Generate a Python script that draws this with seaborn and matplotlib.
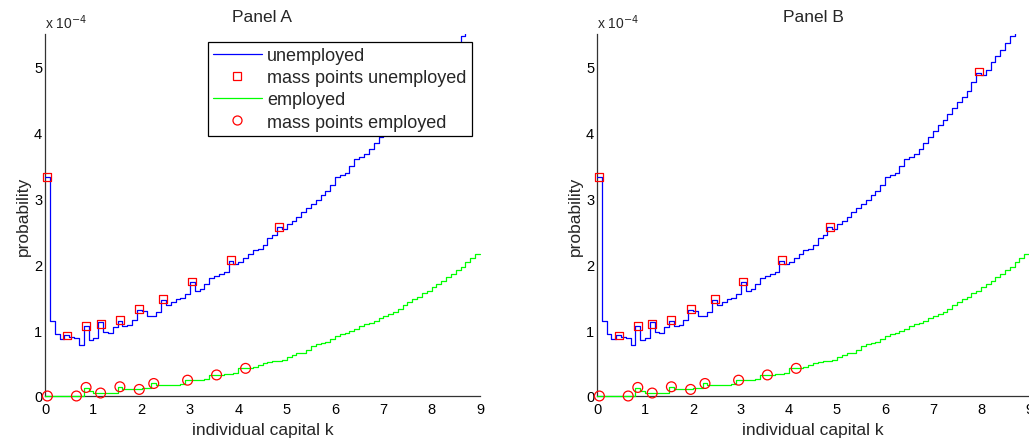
import numpy as np
import pandas as pd
import matplotlib
matplotlib.use('Agg')
import matplotlib.pyplot as plt
from matplotlib.lines import Line2D
from matplotlib.ticker import FuncFormatter
import seaborn as sns

sns.set_style('white')
plt.rcParams['font.family'] = ['Liberation Sans', 'DejaVu Sans']

# capital grid (bin edges), probabilities in units of 1e-4
k_edges = np.round(np.arange(91) * 0.1, 1)

unemployed = [3.33, 1.14, 0.94, 0.87, 0.92, 0.90, 0.88, 0.77, 1.065, 0.85,
              0.88, 1.12, 0.97, 0.96, 1.05, 1.14, 1.07, 1.08, 1.15, 1.31,
              1.29, 1.22, 1.22, 1.28, 1.46, 1.39, 1.43, 1.47, 1.49, 1.545,
              1.73, 1.60, 1.63, 1.70, 1.80, 1.83, 1.86, 1.89, 2.05, 2.00,
              2.03, 2.09, 2.15, 2.22, 2.24, 2.30, 2.40, 2.45, 2.57, 2.54,
              2.61, 2.66, 2.72, 2.79, 2.86, 2.92, 2.98, 3.05, 3.11, 3.20,
              3.33, 3.36, 3.39, 3.50, 3.60, 3.63, 3.68, 3.76, 3.84, 3.93,
              4.02, 4.11, 4.20, 4.28, 4.38, 4.47, 4.54, 4.63, 4.77, 4.91,
              4.87, 4.96, 5.07, 5.16, 5.25, 5.36, 5.47, 5.58, 5.70, 5.82]

employed = [0, 0, 0, 0, 0, 0, 0, 0, 0.115, 0.07,
            0.045, 0.045, 0.05, 0.05, 0.05, 0.14, 0.11, 0.10, 0.10, 0.105,
            0.12, 0.12, 0.195, 0.17, 0.17, 0.17, 0.17, 0.17, 0.18, 0.24,
            0.24, 0.24, 0.24, 0.26, 0.32, 0.32, 0.32, 0.33, 0.33, 0.355,
            0.42, 0.42, 0.42, 0.44, 0.47, 0.50, 0.52, 0.535, 0.535, 0.55,
            0.586, 0.626, 0.647, 0.66, 0.70, 0.76, 0.79, 0.80, 0.82, 0.86,
            0.91, 0.94, 0.955, 0.98, 1.02, 1.07, 1.09, 1.11, 1.14, 1.18,
            1.22, 1.25, 1.28, 1.32, 1.38, 1.43, 1.47, 1.51, 1.56, 1.60,
            1.66, 1.70, 1.75, 1.81, 1.86, 1.91, 1.96, 2.03, 2.09, 2.15]

mass_k_unemp = [0.05, 0.45, 0.85, 1.15, 1.55, 1.95, 2.45, 3.05, 3.85, 4.85, 7.95]
mass_p_unemp = [3.33, 0.92, 1.07, 1.10, 1.15, 1.32, 1.47, 1.74, 2.06, 2.57, 4.93]

mass_k_emp = [0.05, 0.65, 0.85, 1.15, 1.55, 1.95, 2.25, 2.95, 3.55, 4.15]
mass_p_emp = [0.0, 0.0, 0.13, 0.045, 0.14, 0.10, 0.19, 0.24, 0.32, 0.42]

panel_titles = ['Panel A', 'Panel B']
scale = 1e-4


def stairs_frame(vals):
    # stairs: repeat the last value so the final bin is drawn to the edge
    y = np.append(vals, vals[-1]) * scale
    return pd.DataFrame({'k': k_edges, 'p': y})


df_u = stairs_frame(unemployed)
df_e = stairs_frame(employed)
df_mu = pd.DataFrame({'k': mass_k_unemp, 'p': np.array(mass_p_unemp) * scale})
df_me = pd.DataFrame({'k': mass_k_emp, 'p': np.array(mass_p_emp) * scale})

fig = plt.figure(figsize=(10.29, 4.39), dpi=100)
axes = [fig.add_axes([45/1029, 42/439, 435/1029, 362/439]),
        fig.add_axes([597/1029, 42/439, 432/1029, 362/439])]

for ax, title in zip(axes, panel_titles):
    sns.lineplot(data=df_u, x='k', y='p', ax=ax, color='#0000ff', lw=0.9,
                 drawstyle='steps-post', estimator=None, zorder=3)
    sns.lineplot(data=df_e, x='k', y='p', ax=ax, color='#00ff00', lw=0.9,
                 drawstyle='steps-post', estimator=None, zorder=3,
                 clip_on=False)
    sns.scatterplot(data=df_mu, x='k', y='p', ax=ax, marker='s', s=32,
                    facecolor='none', edgecolor='#ff0000', linewidth=0.9,
                    zorder=4, clip_on=False)
    sns.scatterplot(data=df_me, x='k', y='p', ax=ax, marker='o', s=50,
                    facecolor='none', edgecolor='#ff0000', linewidth=0.9,
                    zorder=4, clip_on=False)

    ax.set_xlim(0, 9)
    ax.set_ylim(0, 5.5e-4)
    ax.set_xticks(range(10))
    ax.set_yticks(np.arange(6) * scale)
    ax.yaxis.set_major_formatter(FuncFormatter(lambda v, pos: '%d' % round(v / scale)))
    ax.tick_params(direction='in', length=4, width=0.8, labelsize=10.5,
                   colors='black', pad=4)
    ax.tick_params(axis='y', pad=2)
    for side in ['top', 'right']:
        ax.spines[side].set_visible(False)
    for side in ['left', 'bottom']:
        ax.spines[side].set_color('#333333')
        ax.spines[side].set_linewidth(0.9)
    ax.set_xlabel('individual capital k', fontsize=12.5, labelpad=5)
    ax.set_ylabel('probability', fontsize=12.5, labelpad=2)
    ax.set_title(title, fontsize=12.5, pad=9)
    ax.text(0, 1.008, r'x 10$^{-4}$', transform=ax.transAxes, fontsize=10,
            ha='left', va='bottom')
    ax.grid(False)

handles = [Line2D([], [], color='#0000ff', lw=0.9),
           Line2D([], [], ls='none', marker='s', ms=5.5, mfc='none',
                  mec='#ff0000', mew=0.9),
           Line2D([], [], color='#00ff00', lw=0.9),
           Line2D([], [], ls='none', marker='o', ms=6.5, mfc='none',
                  mec='#ff0000', mew=0.9)]
labels = ['unemployed', 'mass points unemployed', 'employed', 'mass points employed']
leg = axes[0].legend(handles, labels, loc='upper right',
                     bbox_to_anchor=(0.9816, 0.978), borderaxespad=0,
                     fontsize=13, handlelength=2.7, handletextpad=0.3,
                     labelspacing=0.28, borderpad=0.3, fancybox=False,
                     framealpha=1, edgecolor='black')
leg.get_frame().set_linewidth(0.9)
leg.set_zorder(10)

fig.savefig('out.png', dpi=100)
